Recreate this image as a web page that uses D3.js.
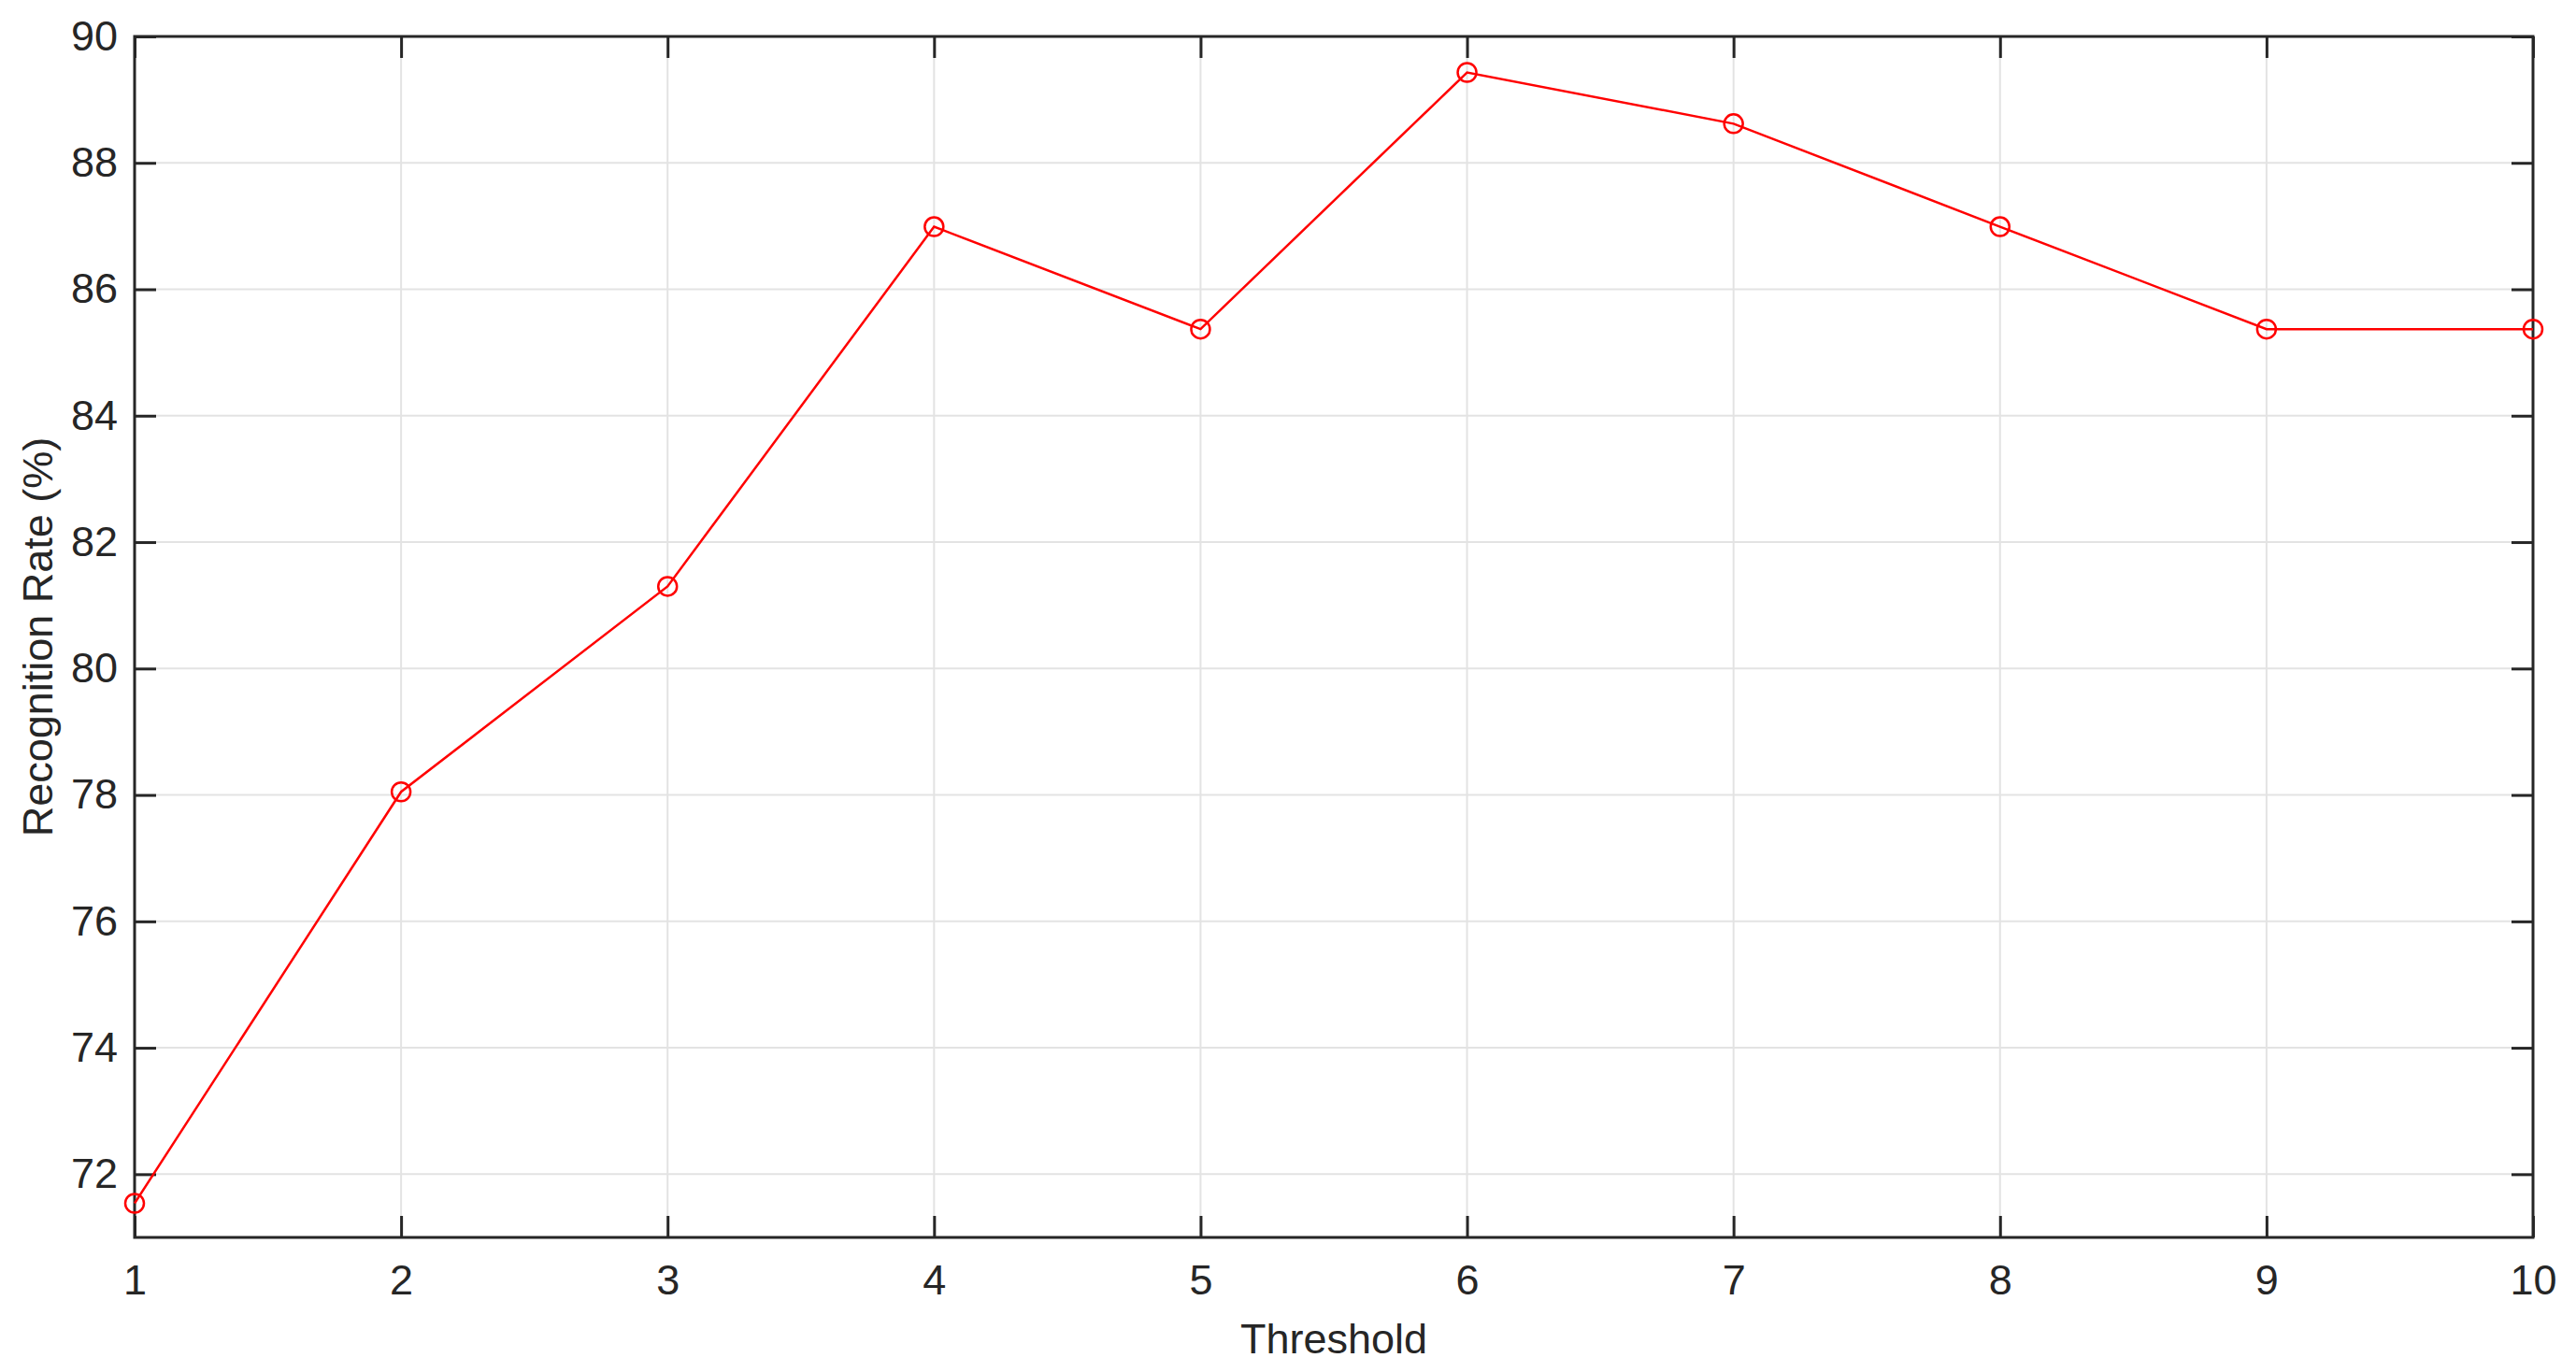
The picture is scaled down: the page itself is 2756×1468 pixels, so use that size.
<!DOCTYPE html>
<html>
  <head>
    <meta charset="utf-8">
    <script src="https://cdn.jsdelivr.net/npm/d3@7"></script>
    <style>
      body { margin: 0; background: #ffffff; }
      text { font-family: "Liberation Sans", Arial, sans-serif; fill: #262626; }
    </style>
  </head>
  <body>
    <script>
      // Data
      var thresholds = [1, 2, 3, 4, 5, 6, 7, 8, 9, 10];
      var rates = [71.54, 78.05, 81.30, 86.99, 85.37, 89.43, 88.62, 86.99, 85.37, 85.37];
      var xTicks = [1, 2, 3, 4, 5, 6, 7, 8, 9, 10];
      var yTicks = [72, 74, 76, 78, 80, 82, 84, 86, 88, 90];

      var width = 2756, height = 1468;
      var margin = {top: 39, right: 46, bottom: 144, left: 144};
      var innerW = width - margin.left - margin.right;
      var innerH = height - margin.top - margin.bottom;

      var svg = d3.select("body").append("svg")
        .attr("width", width).attr("height", height);

      var g = svg.append("g")
        .attr("transform", "translate(" + margin.left + "," + margin.top + ")");

      var x = d3.scaleLinear().domain([1, 10]).range([0, innerW]);
      var y = d3.scaleLinear().domain([71, 90]).range([innerH, 0]);

      var axisColor = "#262626";
      var tickLen = 23;

      // Grid lines
      g.append("g").selectAll("line").data(xTicks).enter().append("line")
        .attr("x1", function(d){ return x(d); }).attr("x2", function(d){ return x(d); })
        .attr("y1", 0).attr("y2", innerH)
        .attr("stroke", "#e3e3e3").attr("stroke-width", 2);
      g.append("g").selectAll("line").data(yTicks).enter().append("line")
        .attr("y1", function(d){ return y(d); }).attr("y2", function(d){ return y(d); })
        .attr("x1", 0).attr("x2", innerW)
        .attr("stroke", "#e3e3e3").attr("stroke-width", 2);

      // Axes with inward ticks on all four sides
      var xBottom = d3.axisBottom(x).tickValues(xTicks).tickSizeInner(-tickLen).tickSizeOuter(0).tickPadding(29);
      var xTop = d3.axisTop(x).tickValues(xTicks).tickSizeInner(-tickLen).tickSizeOuter(0).tickFormat("");
      var yLeft = d3.axisLeft(y).tickValues(yTicks).tickSizeInner(-tickLen).tickSizeOuter(0).tickPadding(18);
      var yRight = d3.axisRight(y).tickValues(yTicks).tickSizeInner(-tickLen).tickSizeOuter(0).tickFormat("");

      var axes = [
        g.append("g").attr("transform", "translate(0," + innerH + ")").call(xBottom),
        g.append("g").call(xTop),
        g.append("g").call(yLeft),
        g.append("g").attr("transform", "translate(" + innerW + ",0)").call(yRight)
      ];
      axes.forEach(function(a){
        a.attr("font-size", null).attr("font-family", null);
        a.select(".domain").remove();
        a.selectAll(".tick line").attr("stroke", axisColor).attr("stroke-width", 3);
        a.selectAll(".tick text").style("font-size", "45px").attr("fill", axisColor);
      });

      // Box
      g.append("rect").attr("x", 0).attr("y", 0)
        .attr("width", innerW).attr("height", innerH)
        .attr("fill", "none").attr("stroke", axisColor).attr("stroke-width", 3);

      // Data line and markers
      var pts = thresholds.map(function(t, i){ return [t, rates[i]]; });
      g.append("path").datum(pts)
        .attr("fill", "none").attr("stroke", "#ff0000").attr("stroke-width", 2.5)
        .attr("d", d3.line().x(function(d){ return x(d[0]); }).y(function(d){ return y(d[1]); }));
      g.selectAll("circle.pt").data(pts).enter().append("circle")
        .attr("class", "pt")
        .attr("cx", function(d){ return x(d[0]); })
        .attr("cy", function(d){ return y(d[1]); })
        .attr("r", 10)
        .attr("fill", "none").attr("stroke", "#ff0000").attr("stroke-width", 2.5);

      // Axis labels
      svg.append("text")
        .attr("x", margin.left + innerW / 2).attr("y", 1448)
        .attr("text-anchor", "middle").style("font-size", "45px")
        .text("Threshold");
      svg.append("text")
        .attr("transform", "translate(56," + (margin.top + innerH / 2) + ") rotate(-90)")
        .attr("text-anchor", "middle").style("font-size", "45px")
        .text("Recognition Rate (%)");
    </script>
  </body>
</html>
